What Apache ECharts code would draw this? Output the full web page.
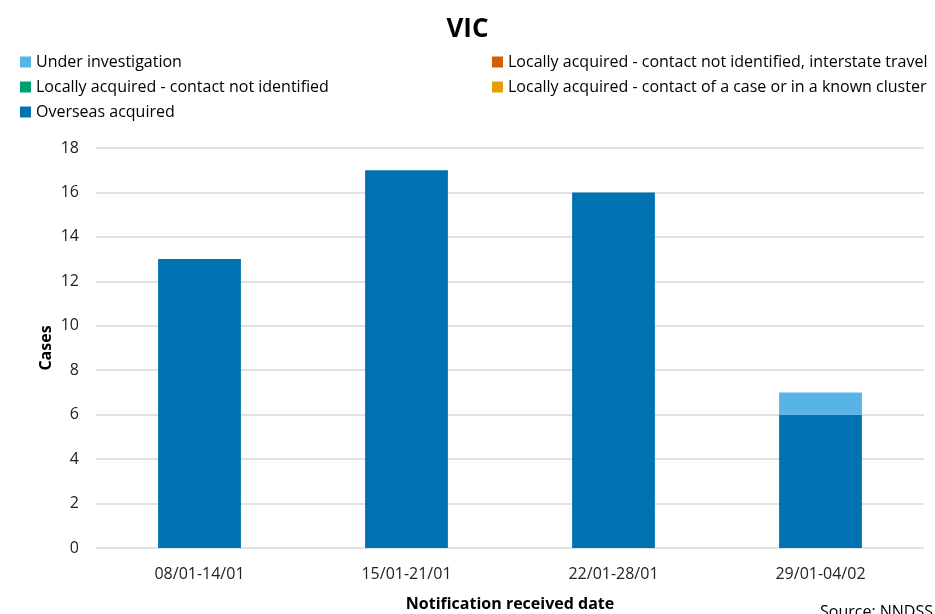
<!DOCTYPE html>
<html><head><meta charset="utf-8">
<script src="https://cdn.jsdelivr.net/npm/echarts@6/dist/echarts.min.js"></script>
<style>html,body{margin:0;padding:0;background:#fff}#c{width:935px;height:614px}</style>
</head><body><div id="c"></div>
<script>
const categories = ['08/01-14/01', '15/01-21/01', '22/01-28/01', '29/01-04/02'];
const overseas = [13, 17, 16, 6];
const localContact = [0, 0, 0, 0];
const localNotIdentified = [0, 0, 0, 0];
const localInterstate = [0, 0, 0, 0];
const underInvestigation = [0, 0, 0, 1];
const yTicks = [0, 2, 4, 6, 8, 10, 12, 14, 16, 18];

const FONT = 'Open Sans';
const chart = echarts.init(document.getElementById('c'));
const mk = (name, data, color) => ({
  name, type: 'bar', stack: 'total', data, barWidth: '40%',
  itemStyle: { color }, emphasis: { disabled: true }
});
chart.setOption({
  animation: false,
  textStyle: { fontFamily: FONT },
  title: {
    text: 'VIC', left: 'center', top: 12,
    textStyle: { fontSize: 26, fontWeight: 'bold', color: '#000', fontFamily: FONT }
  },
  legend: [
    {
      orient: 'vertical', left: 15, top: 46, itemGap: 3, itemWidth: 11, itemHeight: 11,
      icon: 'rect',
      textStyle: { fontSize: 16, color: '#000', fontFamily: FONT, lineHeight: 22 },
      data: ['Under investigation', 'Locally acquired - contact not identified', 'Overseas acquired']
    },
    {
      orient: 'vertical', left: 487, top: 46, itemGap: 3, itemWidth: 11, itemHeight: 11,
      icon: 'rect',
      textStyle: { fontSize: 16, color: '#000', fontFamily: FONT, lineHeight: 22 },
      data: ['Locally acquired - contact not identified, interstate travel', 'Locally acquired - contact of a case or in a known cluster']
    }
  ],
  grid: { left: 96, right: 11, top: 148, bottom: 66, containLabel: false, outerBoundsMode: 'none' },
  xAxis: {
    type: 'category', data: categories,
    name: 'Notification received date', nameLocation: 'middle', nameGap: 48,
    nameMoveOverlap: false,
    nameTextStyle: { fontSize: 16, fontWeight: 'bold', color: '#000', fontFamily: FONT },
    axisLine: { show: false }, axisTick: { show: false },
    axisLabel: { fontSize: 16, color: '#222', margin: 18, fontFamily: FONT }
  },
  yAxis: {
    type: 'value', min: 0, max: 18, interval: 2,
    name: 'Cases', nameLocation: 'middle', nameGap: 42, nameRotate: 90,
    nameMoveOverlap: false,
    nameTextStyle: { fontSize: 16, fontWeight: 'bold', color: '#000', fontFamily: FONT },
    axisLine: { show: false }, axisTick: { show: false },
    axisLabel: { fontSize: 16, color: '#222', margin: 17, fontFamily: FONT,
      formatter: v => yTicks.includes(v) ? String(v) : '' },
    splitLine: { lineStyle: { color: '#d9d9d9', width: 1.5 } }
  },
  graphic: [{
    type: 'text', right: 2, bottom: -6,
    style: { text: 'Source: NNDSS', fontSize: 16, fill: '#000', fontFamily: FONT }
  }],
  series: [
    mk('Overseas acquired', overseas, '#0072b2'),
    mk('Locally acquired - contact of a case or in a known cluster', localContact, '#e69f00'),
    mk('Locally acquired - contact not identified', localNotIdentified, '#009e73'),
    mk('Locally acquired - contact not identified, interstate travel', localInterstate, '#d55e00'),
    mk('Under investigation', underInvestigation, '#56b4e9')
  ]
});
</script></body></html>
